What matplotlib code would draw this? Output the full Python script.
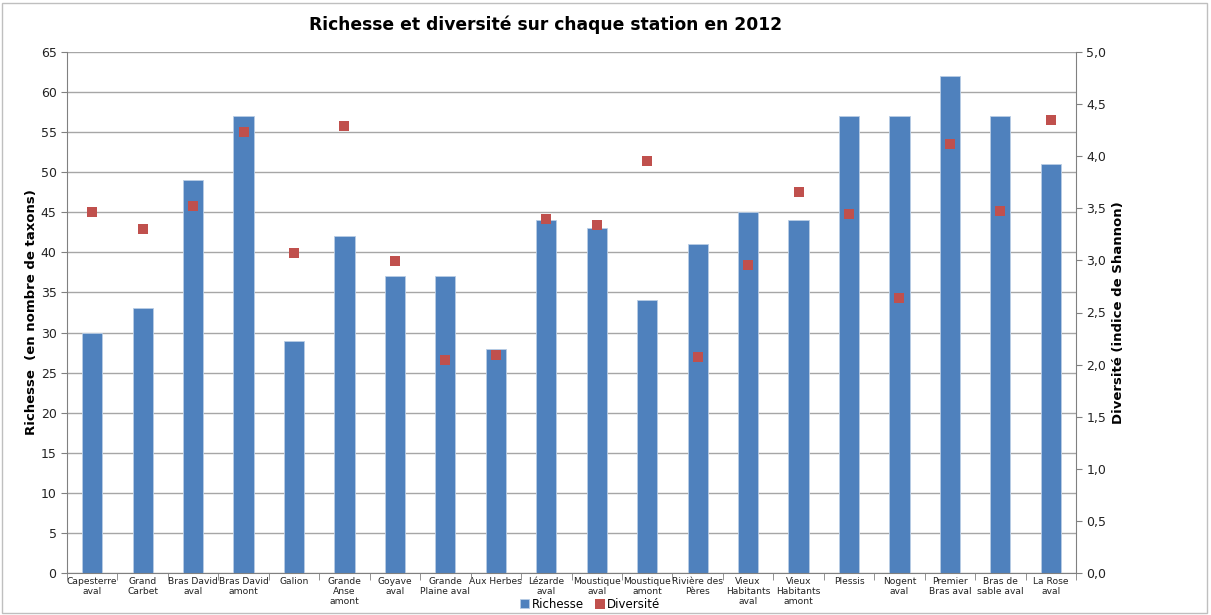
import matplotlib
matplotlib.use("Agg")
import matplotlib.pyplot as plt
from matplotlib.patches import Rectangle
from matplotlib.ticker import MultipleLocator, FixedLocator, FuncFormatter

stations = [
    "Capesterre\naval", "Grand\nCarbet", "Bras David\naval", "Bras David\namont",
    "Galion", "Grande\nAnse\namont", "Goyave\naval", "Grande\nPlaine aval",
    "Aux Herbes", "Lézarde\naval", "Moustique\naval", "Moustique\namont",
    "Rivière des\nPères", "Vieux\nHabitants\naval", "Vieux\nHabitants\namont",
    "Plessis", "Nogent\naval", "Premier\nBras aval", "Bras de\nsable aval", "La Rose\naval",
]
richesse = [30, 33, 49, 57, 29, 42, 37, 37, 28, 44, 43, 34, 41, 45, 44, 57, 57, 62, 57, 51]
diversite = [3.46, 3.30, 3.52, 4.23, 3.07, 4.29, 2.99, 2.04, 2.09, 3.40,
             3.34, 3.95, 2.07, 2.96, 3.66, 3.45, 2.64, 4.12, 3.47, 4.35]

BLUE = "#4F81BD"
RED = "#C0504D"

plt.rcParams["font.family"] = ["DejaVu Sans"]

fig = plt.figure(figsize=(12.11, 6.15), dpi=100)
fig.patches.append(Rectangle((0.002, 0.003), 0.995, 0.992, transform=fig.transFigure,
                             fill=False, edgecolor="#BFBFBF", linewidth=1.0))

ax = fig.add_axes([67 / 1211, 1 - 573 / 615, (1076 - 67) / 1211, (573 - 52) / 615])
x = list(range(len(stations)))

ax.bar(x, richesse, width=0.4, color=BLUE, edgecolor="#B9CDE5", linewidth=0.6,
       label="Richesse", zorder=2)
ax.set_xlim(-0.5, len(stations) - 0.5)
ax.set_ylim(0, 65)
ax.yaxis.set_major_locator(MultipleLocator(5))
ax.grid(axis="y", color="#A6A6A6", linewidth=1.0, zorder=0)
ax.set_axisbelow(True)

ax.set_xticks(x)
ax.set_xticklabels(stations, fontsize=6.6, color="#222222", linespacing=1.15)
ax.tick_params(axis="x", length=0, pad=3)
ax.xaxis.set_minor_locator(FixedLocator([i - 0.5 for i in range(len(stations) + 1)]))
ax.tick_params(axis="x", which="minor", length=5, color="#808080", direction="out")
ax.tick_params(axis="y", labelsize=9, length=4, color="#808080", colors="#222222")

for side in ["top", "right"]:
    ax.spines[side].set_visible(False)
for side in ["left", "bottom"]:
    ax.spines[side].set_color("#808080")

ax.set_ylabel("Richesse  (en nombre de taxons)", fontsize=9.5, fontweight="bold", labelpad=2)

ax2 = ax.twinx()
ax2.scatter(x, diversite, marker="s", s=46, color=RED, label="Diversité", zorder=3,
            linewidths=0)
ax2.set_ylim(0, 5)
ax2.yaxis.set_major_locator(MultipleLocator(0.5))
ax2.yaxis.set_major_formatter(FuncFormatter(lambda v, p: f"{v:.1f}".replace(".", ",")))
ax2.tick_params(axis="y", labelsize=9, length=4, color="#808080", colors="#222222")
for side in ["top", "left", "bottom"]:
    ax2.spines[side].set_visible(False)
ax2.spines["right"].set_color("#808080")
ax2.set_ylabel("Diversité (indice de Shannon)", fontsize=9.5, fontweight="bold", labelpad=4)

fig.text(546 / 1211, 1 - 25 / 615, "Richesse et diversité sur chaque station en 2012",
         ha="center", va="center", fontsize=12.3, fontweight="bold")

h1, l1 = ax.get_legend_handles_labels()
h2, l2 = ax2.get_legend_handles_labels()
fig.legend(h1 + h2, l1 + l2, loc="center", bbox_to_anchor=(590 / 1211, 1 - 604 / 615),
           ncol=2, frameon=False, fontsize=8.5, handlelength=0.8, handleheight=0.8,
           handletextpad=0.2, columnspacing=1.0, borderpad=0)

fig.savefig("out.png", dpi=100)
